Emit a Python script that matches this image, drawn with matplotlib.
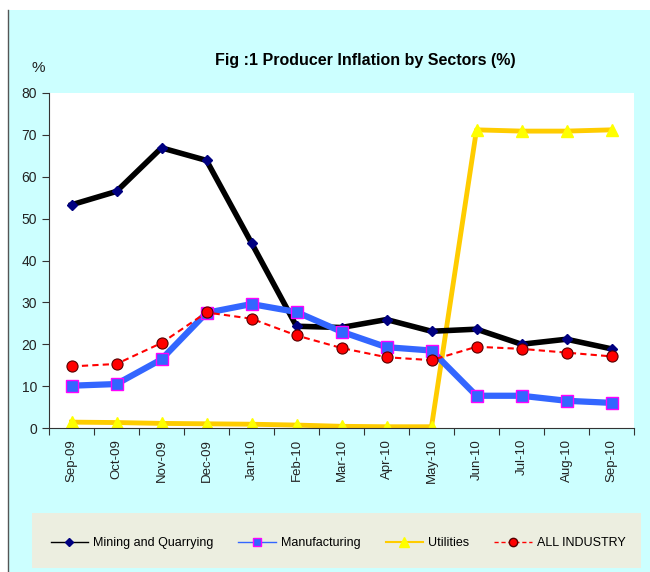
import matplotlib
matplotlib.use('Agg')
import matplotlib.pyplot as plt
from matplotlib.lines import Line2D
from matplotlib.patches import Rectangle

months = ['Sep-09', 'Oct-09', 'Nov-09', 'Dec-09', 'Jan-10', 'Feb-10', 'Mar-10',
          'Apr-10', 'May-10', 'Jun-10', 'Jul-10', 'Aug-10', 'Sep-10']
mining = [53.3, 56.5, 66.9, 63.9, 44.2, 24.3, 24.0, 25.9, 23.1, 23.6, 20.0, 21.2, 18.9]
manufacturing = [10.1, 10.5, 16.4, 27.5, 29.6, 27.7, 23.0, 19.3, 18.5, 7.7, 7.7, 6.5, 6.0]
utilities = [1.4, 1.3, 1.1, 1.0, 0.9, 0.7, 0.4, 0.3, 0.3, 71.2, 70.9, 70.9, 71.2]
all_industry = [14.7, 15.3, 20.3, 27.6, 26.1, 22.1, 19.1, 16.9, 16.2, 19.4, 18.9, 18.0, 17.1]

plt.rcParams['font.family'] = ['Liberation Sans', 'DejaVu Sans']

fig = plt.figure(figsize=(6.5, 5.72), dpi=100)
W, H = 650, 572
# cyan background and left border line
fig.patches.append(Rectangle((8 / W, 0), 1, 1 - 10 / H, transform=fig.transFigure,
                             facecolor='#CCFFFF', edgecolor='none', zorder=-2))
fig.lines.append(Line2D([8 / W, 8 / W], [0, 1 - 10 / H], transform=fig.transFigure,
                        color='#555555', lw=1))
# legend box
fig.patches.append(Rectangle((32 / W, 4 / H), 609 / W, 55 / H, transform=fig.transFigure,
                             facecolor='#ECEEE0', edgecolor='none', zorder=-1))

ax = fig.add_axes([49 / W, 1 - 428 / H, 585 / W, 335 / H])
ax.set_facecolor('white')
x = list(range(len(months)))

ax.plot(x, mining, color='black', lw=4, marker='D', ms=5, mfc='#000080', mec='#000080', zorder=3)
ax.plot(x, manufacturing, color='#3366FF', lw=4.5, marker='s', ms=8, mfc='#3366FF', mec='#FF00FF', mew=1, zorder=4)
ax.plot(x, utilities, color='#FFCC00', lw=3.5, marker='^', ms=8, mfc='#FFFF00', mec='#FFFF00', zorder=2)
ax.plot(x, all_industry, color='red', lw=1.5, ls=(0, (3, 2)), marker='o', ms=8, mfc='red', mec='#550000', mew=0.8, zorder=5)

ax.set_xlim(-0.5, len(months) - 0.5)
ax.set_ylim(0, 80)
ax.set_yticks(range(0, 81, 10))
ax.set_xticks([i - 0.5 for i in range(len(months) + 1)])
ax.set_xticklabels([])
ax.set_xticks(x, minor=True)
ax.set_xticklabels(months, minor=True, rotation=90)
ax.tick_params(axis='x', which='minor', length=0, pad=8, labelsize=9.5, labelcolor='#222222')
ax.tick_params(axis='x', which='major', length=5, color='#333333')
ax.tick_params(axis='y', length=5, color='#333333', labelsize=10, labelcolor='#222222')
for s in ['top', 'right']:
    ax.spines[s].set_visible(False)
for s in ['left', 'bottom']:
    ax.spines[s].set_color('#333333')

fig.text(38 / W, 1 - 68 / H, '%', fontsize=11, color='#222222', ha='center', va='center')
fig.text(365 / W, 1 - 60 / H, 'Fig :1 Producer Inflation by Sectors (%)', fontsize=11.5,
         fontweight='bold', ha='center', va='center')

handles = [
    Line2D([], [], color='black', lw=1, marker='D', ms=4, mfc='#000080', mec='#000080'),
    Line2D([], [], color='#3366FF', lw=1, marker='s', ms=6, mfc='#3366FF', mec='#FF00FF'),
    Line2D([], [], color='#FFCC00', lw=1.5, marker='^', ms=7, mfc='#FFFF00', mec='#FFFF00'),
    Line2D([], [], color='red', lw=1, ls=(0, (3, 2)), marker='o', ms=6, mfc='red', mec='#550000'),
]
labels = ['Mining and Quarrying', 'Manufacturing', 'Utilities', 'ALL INDUSTRY']
fig.legend(handles, labels, loc='center', bbox_to_anchor=(338 / W, 1 - 543 / H), ncol=4,
           frameon=False, fontsize=9, handlelength=3.0, columnspacing=2.0, handletextpad=0.4)

fig.savefig('out.png', dpi=100, facecolor='white')
